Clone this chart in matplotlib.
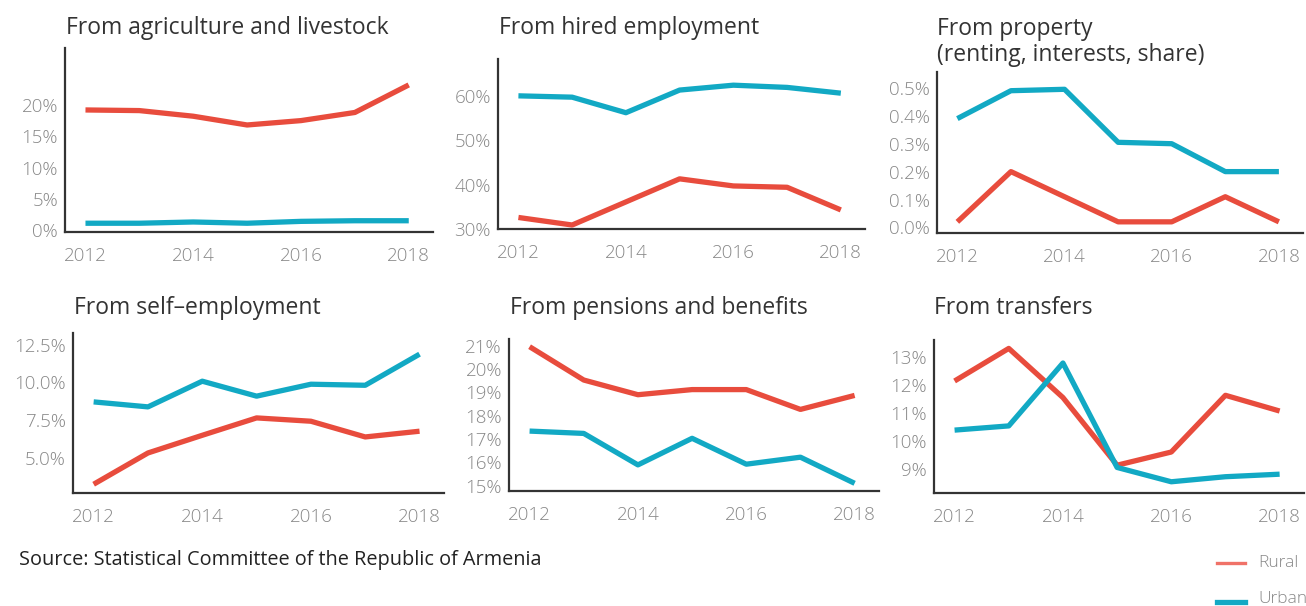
import numpy as np
import matplotlib
matplotlib.use("Agg")
import matplotlib.pyplot as plt
from matplotlib.ticker import FuncFormatter

# Datos
years = [2012, 2013, 2014, 2015, 2016, 2017, 2018]

agri_rural = [19.2, 19.1, 18.2, 16.8, 17.5, 18.8, 23.2]
agri_urban = [1.1, 1.1, 1.3, 1.1, 1.4, 1.5, 1.5]

hired_rural = [32.6, 30.9, 36.1, 41.3, 39.7, 39.4, 34.3]
hired_urban = [60.0, 59.7, 56.2, 61.3, 62.4, 61.9, 60.6]

prop_rural = [0.02, 0.2, 0.11, 0.02, 0.02, 0.11, 0.02]
prop_urban = [0.39, 0.49, 0.495, 0.305, 0.3, 0.2, 0.2]

self_rural = [3.26, 5.33, 6.5, 7.65, 7.43, 6.39, 6.77]
self_urban = [8.71, 8.38, 10.08, 9.09, 9.88, 9.81, 11.87]

pens_rural = [20.96, 19.53, 18.9, 19.12, 19.12, 18.27, 18.87]
pens_urban = [17.34, 17.24, 15.89, 17.03, 15.92, 16.22, 15.1]

trans_rural = [12.14, 13.3, 11.55, 9.14, 9.61, 11.63, 11.07]
trans_urban = [10.39, 10.54, 12.78, 9.06, 8.55, 8.73, 8.82]

RED = "#E84C3D"
CYAN = "#12A9C4"
FONT = ["Open Sans", "DejaVu Sans"]

plt.rcParams["font.family"] = FONT

W, H = 1306, 606


def box(left, top, right, bottom):
    # caja en pixeles -> fraccion de figura
    return [left / W, 1 - bottom / H, (right - left) / W, (bottom - top) / H]


def pct_fmt(dec):
    return FuncFormatter(lambda v, p: f"{v:.{dec}f}%")


def panel(fig, rect, title, rural, urban, yticks, ylim, dec, title_xy):
    ax = fig.add_axes(rect)
    ax.plot(years, rural, color=RED, lw=3.8, solid_capstyle="butt")
    ax.plot(years, urban, color=CYAN, lw=3.8, solid_capstyle="butt")
    ax.set_xlim(2011.62, 2018.45)
    ax.set_ylim(*ylim)
    ax.set_xticks([2012, 2014, 2016, 2018])
    ax.set_yticks(yticks)
    ax.yaxis.set_major_formatter(pct_fmt(dec))
    for s in ["top", "right"]:
        ax.spines[s].set_visible(False)
    for s in ["left", "bottom"]:
        ax.spines[s].set_color("#333333")
        ax.spines[s].set_linewidth(1.6)
    ax.tick_params(length=0, labelsize=13.5, colors="#888888", pad=5)
    ax.tick_params(axis="x", pad=11)
    for lab in ax.get_xticklabels() + ax.get_yticklabels():
        lab.set_fontweight("light")
    fig.text(title_xy[0] / W, 1 - title_xy[1] / H, title, fontsize=16.5,
             color="#333333", va="center", ha="left", linespacing=1.1)
    return ax


fig = plt.figure(figsize=(13.06, 6.06), dpi=100)

panel(fig, box(65, 48, 433, 232), "From agriculture and livestock",
      agri_rural, agri_urban, [0, 5, 10, 15, 20], (-0.3, 29.1), 0, (66, 28))
panel(fig, box(498, 59, 865, 229), "From hired employment",
      hired_rural, hired_urban, [30, 40, 50, 60], (30, 68.3), 0, (499, 28))
panel(fig, box(937, 72, 1303, 233), "From property\n(renting, interests, share)",
      prop_rural, prop_urban, [0, 0.1, 0.2, 0.3, 0.4, 0.5], (-0.02, 0.557), 1, (937, 42))
panel(fig, box(73, 333, 444, 493), "From self\u2013employment",
      self_rural, self_urban, [5, 7.5, 10, 12.5], (2.68, 13.27), 1, (74, 308))
panel(fig, box(509, 339, 879, 491), "From pensions and benefits",
      pens_rural, pens_urban, [15, 16, 17, 18, 19, 20, 21], (14.77, 21.29), 0, (510, 308))
panel(fig, box(934, 340, 1304, 493), "From transfers",
      trans_rural, trans_urban, [9, 10, 11, 12, 13], (8.15, 13.6), 0, (934, 308))

fig.text(19 / W, 1 - 560 / H, "Source: Statistical Committee of the Republic of Armenia",
         fontsize=14.3, color="#222222", va="center", ha="left")

# leyenda manual
lax = fig.add_axes([0, 0, 1, 1], facecolor="none")
lax.set_xlim(0, W)
lax.set_ylim(H, 0)
lax.axis("off")
lax.plot([1217, 1245], [563, 563], color="#F07268", lw=2.4)
lax.plot([1217, 1245], [602, 602], color=CYAN, lw=3.8)
lax.text(1258, 563, "Rural", fontsize=12.5, color="#888888", va="center", fontweight="light")
lax.text(1258, 599, "Urban", fontsize=12.5, color="#888888", va="center", fontweight="light")

fig.savefig("out.png", dpi=100)
